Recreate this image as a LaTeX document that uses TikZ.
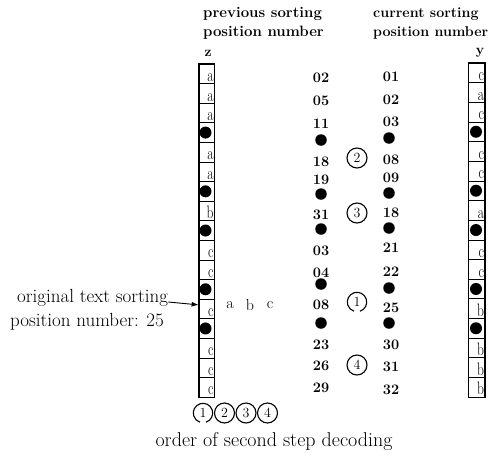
\documentclass[tikz,border=0pt]{standalone}
\usepackage{fontspec}
\usetikzlibrary{arrows.meta}
\begin{document}
\begin{tikzpicture}[x=1pt,y=-1pt,
  head/.style={font=\fontsize{15}{17}\selectfont\bfseries, inner sep=0pt, anchor=base west},
  headr/.style={font=\fontsize{14.3}{16}\selectfont\bfseries, inner sep=0pt, anchor=base west},
  body/.style={font=\fontsize{19}{22}\selectfont, inner sep=0pt},
  num/.style={font=\fontsize{14.5}{16}\selectfont\bfseries, inner sep=0pt},
  bigdot/.style={circle, fill=black, inner sep=0pt, minimum size=11.5pt},
  celldot/.style={circle, fill=black, inner sep=0pt, minimum size=12pt},
  zcell/.style={draw, line width=0.7pt, minimum width=15pt, minimum height=19.59pt, inner sep=0pt},
  ycell/.style={draw, line width=0.7pt, minimum width=16pt, minimum height=19.65pt, inner sep=0pt},
  letter/.style={font=\fontsize{18}{19}\selectfont, inner sep=0.6pt, anchor=base east},
  ring/.style={circle, draw, line width=1.1pt, minimum size=20pt, inner sep=0pt, font=\fontsize{14}{15}\selectfont},
  openring/.style={circle, minimum size=20pt, inner sep=0pt, font=\fontsize{14}{15}\selectfont},
  gaparc/.style={line width=1.1pt},
  frame/.style={line width=1.3pt},
  symb/.style={font=\fontsize{16}{17}\selectfont, inner sep=0pt},
]
\useasboundingbox (0,0) rectangle (497,466);

% column headings
\node[head] (h1) at (203,17) {previous sorting};
\node[head] (h2) at (203,36) {position number};
\node[headr] (h3) at (373,17) {current sorting};
\node[headr] (h4) at (373,36) {position number};
\node[font=\fontsize{14}{15}\selectfont\bfseries, inner sep=0pt, anchor=base] (zl) at (208,56) {z};
\node[font=\fontsize{14}{15}\selectfont\bfseries, inner sep=0pt, anchor=base] (yl) at (480,54) {y};

% column z
\foreach \i in {1,...,17}
  \node[zcell] (z\i) at (206.5,{64+(\i-0.5)*19.59}) {};
\draw[frame] (z1.north west) rectangle (z17.south east);
\foreach \i/\t in {1/a,2/a,3/a,5/a,6/a,8/b,10/c,11/c,13/c,15/c,16/c,17/c}
  \node[letter] (zt\i) at ([yshift=2.5pt]z\i.south east) {\scalebox{0.75}[1]{\t}};
\foreach \i in {4,7,9,12,14}
  \node[celldot] (zd\i) at ([xshift=-1pt]z\i.center) {};

% column y
\foreach \i in {1,...,17}
  \node[ycell] (y\i) at (476.5,{63+(\i-0.5)*19.65}) {};
\draw[frame] (y1.north west) rectangle (y17.south east);
\foreach \i/\t in {1/c,2/a,3/c,5/c,6/c,8/a,10/c,11/c,13/b,15/b,16/b,17/b}
  \node[letter] (yt\i) at ([yshift=2.5pt]y\i.south east) {\scalebox{0.75}[1]{\t}};
\foreach \i in {4,7,9,12,14}
  \node[celldot] (yd\i) at ([xshift=-0.5pt]y\i.center) {};

% previous sorting position numbers
\foreach \n/\yy [count=\k] in {02/78,05/101,11/124,18/162,19/180,31/215,03/251,04/273,08/305,23/345,26/366,29/388}
  \node[num] (p\k) at (321,\yy) {\n};
\foreach \yy [count=\k] in {140,194,229,284,323}
  \node[bigdot] (pd\k) at (321,\yy) {};

% current sorting position numbers
\foreach \n/\yy [count=\k] in {01/77,02/100,03/122,08/160,09/178,18/213,21/248,22/272,25/308,30/345,31/367,32/390}
  \node[num] (c\k) at (391,\yy) {\n};
\foreach \yy [count=\k] in {138,193,228,288,323}
  \node[bigdot] (cd\k) at (389,\yy) {};

% decoding order marks between the columns
\node[ring] (m2) at (357,158) {2};
\node[ring] (m3) at (357,213) {3};
\node[openring] (m1) at (357,302) {\raisebox{-3pt}{1}};
\draw[gaparc] ([shift={(-72:9.7pt)}]m1.center) arc[start angle=-72, end angle=252, radius=9.7pt];
\node[ring] (m4) at (357,365) {4};

% decoding order marks below column z
\node[openring] (b1) at (203,413) {\raisebox{-3pt}{1}};
\draw[gaparc] ([shift={(-72:9.7pt)}]b1.center) arc[start angle=-72, end angle=252, radius=9.7pt];
\node[ring] (b2) at (224.5,413) {2};
\node[ring] (b3) at (246,413) {3};
\node[ring] (b4) at (267.5,413) {4};

% original text position
\node[body, anchor=base west] (t1) at (17,302) {original text sorting};
\node[body, anchor=base west] (t2) at (10,326) {position number: 25};
\draw[line width=0.9pt, -{Latex[length=7pt,width=5pt]}] (t1.base east) -- ([yshift=4pt]z13.west);

% decoded symbols
\node[symb] (sa) at (230,305) {a};
\node[symb] (sb) at (250,305) {b};
\node[symb] (sc) at (270,305) {c};

% caption
\node[font=\fontsize{20}{22}\selectfont, inner sep=0pt] (cap) at (274,442) {order of second step decoding};
\end{tikzpicture}
\end{document}
